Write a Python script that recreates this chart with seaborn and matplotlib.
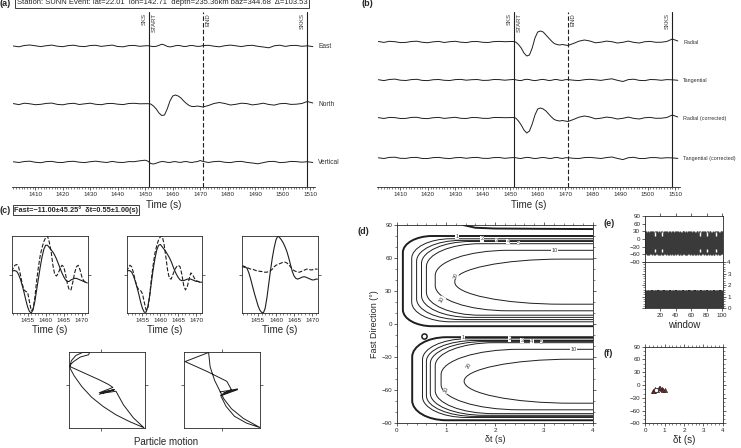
import matplotlib
matplotlib.use('Agg')
import matplotlib.pyplot as plt
from matplotlib.path import Path
from matplotlib.patches import PathPatch
from matplotlib.ticker import MultipleLocator
import numpy as np
import seaborn as sns

W, H = 741, 448
INK = '#1e1e1e'

# ---- (a)/(b) seismograms, amplitudes in plot units ----
TRACE_T = np.concatenate([np.arange(1402, 1451, 2), np.arange(1451, 1472, 1),
                          np.arange(1473, 1512, 2)])
EAST = [0.0, -0.8, 0.5, 1.0, 0.2, -0.6, 0.3, 0.9, -0.2, -0.7, 0.4, 0.8, -0.3, -0.6, 0.5,
        0.7, -0.4, 0.3, 0.9, -0.5, -0.8, 0.4, 0.6, -0.3, 0.2,
        0.3, -0.2, -0.6, -0.3, 0.6, 1.8, 1.0, -0.4, -0.9, -0.5, 0.3, 0.6, 0.2, -0.5, -0.4,
        0.3, 0.6, 0.1, -0.4, -0.3, 0.4,
        0.7, -0.2, -0.8, 0.3, 0.9, 0.2, -0.6, 0.4, 0.7, -0.3, -1.0, -1.8, 0.2, 0.8, -0.4,
        0.5, 0.6, -0.3, 0.2, -0.6]
NORTH = [0.4, -0.6, 0.8, 0.2, -0.7, -0.3, 0.6, 0.9, -0.4, -0.8, 0.3, 0.7, -0.5, 0.2, 0.8,
         -0.3, -0.7, 0.4, 0.6, -0.2, -0.6, 0.5, 0.7, 0.2, 0.3,
         0.3, 0.0, -2.0, -5.0, -9.0, -11.5, -11.0, -5.0, 3.0, 8.0, 9.0, 8.0, 6.0, 3.0, 0.5,
         -1.5, -2.5, -2.5, -2.0, -2.5, -3.0,
         -1.5, 0.5, 1.5, 0.5, -1.0, -0.3, 0.8, 0.4, -0.9, -0.2, 0.8, -0.5, -1.1, 0.3, 0.6,
         -0.4, -0.2, 0.5, 2.5, 1.0]
VERTICAL = [0.2, -0.5, 0.5, 0.8, -0.3, -0.7, 0.4, 0.6, -0.4, -0.5, 0.5, 0.7, -0.2, -0.6, 0.3,
            0.8, 0.1, -0.5, 0.6, -0.3, -0.5, 0.4, 0.3, 1.2, 1.8,
            0.8, -1.5, -2.0, -1.2, -0.2, 0.5, 0.3, -0.3, -0.5, 0.2, 0.4, -0.2, -0.4, 0.3, 0.5,
            -0.2, -0.5, 0.1, 0.4, 1.5, 0.6,
            -0.5, 0.4, 0.7, -0.3, -0.6, 0.4, 0.6, -0.4, -1.0, -1.8, -0.6, 0.5, 0.6, -0.6, -0.3,
            0.6, 0.4, -0.2, 0.3, -0.5]
RADIAL = [0.5, -0.4, 0.7, 0.3, -0.6, -0.4, 0.5, 0.8, -0.3, -0.7, 0.2, 0.6, -0.5, 0.3, 0.7,
          -0.2, -0.6, 0.4, 0.5, -0.3, -0.5, 0.4, 0.6, 0.3, 0.5,
          0.5, 0.0, -2.5, -6.0, -11.0, -14.0, -13.0, -6.0, 4.0, 10.0, 11.0, 10.0, 7.0, 4.0, 1.0,
          -1.5, -2.5, -3.0, -2.5, -3.0, -3.5,
          -1.5, 0.8, 2.0, 1.0, -0.8, -0.2, 0.9, 0.3, -1.0, -0.3, 0.9, -0.4, -1.0, 0.3, 0.6,
          -0.3, -0.2, 0.5, 3.0, 1.0]
TANGENTIAL = [0.3, -0.6, 0.5, 0.9, -0.2, -0.5, 0.4, 0.7, -0.4, -0.6, 0.3, 0.5, -0.3, -0.5, 0.4,
              0.6, -0.2, 0.3, 0.5, -0.4, -0.3, 0.5, 0.4, -0.2, 0.3,
              0.5, 0.2, -0.4, -0.6, 0.3, 0.7, 0.4, -0.3, -0.6, -0.2, 0.4, 0.6, 0.1, -0.5, -0.3,
              0.4, 0.5, -0.2, -0.4, 0.3, 0.4,
              -0.2, -0.6, 0.3, 0.7, 0.2, -0.4, 0.5, 1.2, -0.3, -1.5, 0.4, 0.8, -0.4, -0.6, 0.5,
              0.3, -0.3, 0.4, 0.2, -0.3]
RADIAL_C = [0.4, -0.5, 0.6, 0.4, -0.5, -0.4, 0.6, 0.7, -0.4, -0.6, 0.3, 0.6, -0.4, 0.2, 0.7,
            -0.3, -0.5, 0.5, 0.4, -0.3, -0.4, 0.5, 0.5, 0.3, 0.4,
            0.5, 0.0, -3.0, -7.0, -12.0, -15.0, -13.0, -6.0, 3.0, 9.0, 10.0, 9.0, 7.0, 4.0, 1.0,
            -1.5, -2.5, -3.0, -2.5, -3.0, -3.5,
            -1.5, 0.8, 2.0, 1.0, -0.8, -0.2, 0.9, 0.3, -1.0, -0.3, 0.9, -0.4, -1.0, 0.3, 0.6,
            -0.3, -0.2, 0.5, 3.0, 1.0]
TANGENTIAL_C = [0.2, -0.5, 0.6, 0.8, -0.3, -0.4, 0.5, 0.6, -0.5, -0.5, 0.4, 0.6, -0.2, -0.6, 0.3,
                0.5, -0.3, 0.4, 0.6, -0.3, -0.4, 0.4, 0.5, -0.3, 0.2,
                0.4, 0.3, -0.3, -0.5, 0.2, 0.6, 0.5, -0.2, -0.5, -0.3, 0.3, 0.5, 0.2, -0.4, -0.4,
                0.3, 0.6, -0.1, -0.5, 0.2, 0.3,
                -0.3, -0.5, 0.4, 0.6, 0.1, -0.5, 0.4, 1.0, -0.4, -1.6, 0.3, 0.7, -0.5, -0.5, 0.4,
                0.4, -0.2, 0.3, 0.1, -0.4]
A_NAMES = ['East', 'North', 'Vertical']
A_BASE = [141, 83, 25]
B_NAMES = ['Radial', 'Tangential', 'Radial (corrected)', 'Tangential (corrected)']
B_BASE = [145, 107, 69, 29]
SKS_T, END_T, SKKS_T = 1451.5, 1471.0, 1509.0

# ---- (c) windowed waveforms (normalised) ----
C_T = np.arange(1450.5, 1472.0, 0.5)
C1_SOLID = [0.54, 0.55, 0.55, 0.54, 0.50, 0.44, 0.36, 0.27, 0.17, 0.08, 0.02, 0.00, 0.04, 0.15,
            0.30, 0.45, 0.60, 0.73, 0.83, 0.88, 0.88, 0.85, 0.82, 0.79, 0.75, 0.70, 0.64, 0.58,
            0.52, 0.47, 0.43, 0.41, 0.41, 0.43, 0.44, 0.45, 0.45, 0.44, 0.43, 0.42, 0.41, 0.40, 0.39]
C1_DASH = [0.54, 0.58, 0.62, 0.63, 0.60, 0.50, 0.38, 0.30, 0.28, 0.27, 0.15, 0.03, 0.05, 0.20,
           0.42, 0.60, 0.75, 0.85, 0.93, 0.98, 1.00, 0.92, 0.80, 0.62, 0.50, 0.48, 0.52, 0.58,
           0.62, 0.60, 0.50, 0.38, 0.30, 0.30, 0.40, 0.52, 0.60, 0.62, 0.56, 0.47, 0.42, 0.40, 0.40]
C2_SOLID = [0.54, 0.55, 0.55, 0.53, 0.48, 0.41, 0.33, 0.24, 0.14, 0.06, 0.01, 0.01, 0.08, 0.22,
            0.40, 0.57, 0.71, 0.82, 0.88, 0.89, 0.86, 0.83, 0.80, 0.76, 0.72, 0.67, 0.61, 0.55,
            0.50, 0.46, 0.43, 0.42, 0.42, 0.43, 0.44, 0.44, 0.44, 0.43, 0.42, 0.41, 0.41, 0.40, 0.40]
C2_DASH = [0.54, 0.58, 0.62, 0.60, 0.52, 0.42, 0.34, 0.30, 0.29, 0.25, 0.14, 0.04, 0.06, 0.22,
           0.45, 0.63, 0.78, 0.88, 0.95, 0.99, 1.00, 0.90, 0.74, 0.56, 0.45, 0.44, 0.50, 0.56,
           0.60, 0.62, 0.60, 0.50, 0.36, 0.30, 0.34, 0.44, 0.52, 0.50, 0.45, 0.42, 0.41, 0.40, 0.40]
C3_SOLID = [0.60, 0.61, 0.60, 0.58, 0.52, 0.44, 0.35, 0.26, 0.18, 0.10, 0.04, 0.01, 0.00, 0.06,
            0.20, 0.38, 0.56, 0.72, 0.85, 0.95, 1.00, 0.98, 0.95, 0.91, 0.86, 0.80, 0.72, 0.63,
            0.54, 0.48, 0.45, 0.44, 0.45, 0.46, 0.47, 0.47, 0.46, 0.45, 0.44, 0.43, 0.43, 0.44, 0.44]
C3_DASH = [0.60, 0.60, 0.59, 0.59, 0.58, 0.57, 0.57, 0.56, 0.55, 0.55, 0.54, 0.54, 0.53, 0.53,
           0.53, 0.54, 0.55, 0.57, 0.60, 0.62, 0.63, 0.64, 0.65, 0.66, 0.66, 0.65, 0.63, 0.60,
           0.57, 0.55, 0.54, 0.53, 0.53, 0.54, 0.55, 0.56, 0.57, 0.57, 0.56, 0.56, 0.57, 0.57, 0.57]

# ---- particle motion (normalised box coords) ----
PM1_X = [0.40, 0.60, 0.42, 0.62, 0.72, 0.85, 0.99, 0.80, 0.62, 0.45, 0.30, 0.17, 0.07, 0.01,
         0.03, 0.09, 0.18, 0.27, 0.26, 0.15, 0.06, 0.00, 0.20, 0.40, 0.52, 0.58, 0.40, 0.59, 0.48]
PM1_Y = [0.44, 0.50, 0.45, 0.48, 0.30, 0.13, 0.00, 0.08, 0.17, 0.28, 0.40, 0.54, 0.68, 0.79,
         0.88, 0.95, 0.99, 0.99, 0.96, 0.93, 0.87, 0.81, 0.72, 0.63, 0.57, 0.53, 0.46, 0.50, 0.47]
PM2_X = [0.47, 0.70, 0.48, 0.62, 0.56, 0.30, 0.01, 0.32, 0.34, 0.40, 0.46, 0.52, 0.62, 0.78,
         1.00, 0.82, 0.66, 0.55, 0.48, 0.70, 0.52]
PM2_Y = [0.47, 0.51, 0.43, 0.50, 0.61, 0.74, 0.87, 0.99, 0.80, 0.62, 0.50, 0.38, 0.25, 0.12,
         0.00, 0.06, 0.15, 0.28, 0.42, 0.50, 0.46]

# ---- (d) energy contours: one horseshoe per level and lobe ----
LEVELS = [1, 2, 3, 4, 5, 10, 20]
UP_NOSE = [0.12, 0.30, 0.40, 0.50, 0.60, 0.78, 1.18]
UP_TOP = [80, 77.5, 76, 75, 73, 67, 59]
UP_BOT = [-2, 2, 4, 6, 8, 12, 18]
UP_W = [0.6, 0.8, 0.9, 1.0, 1.1, 1.5, 2.2]
UP_H = [15, 18, 19, 20, 21, 23, 20]
LO_NOSE = [0.31, 0.52, 0.60, 0.68, 0.78, 0.90, 1.37]
LO_TOP = [-12, -13.5, -15, -16, -17, -23, -32]
LO_BOT = [-87.5, -85, -84, -83, -81.5, -78, -72]
LO_W = [0.7, 0.9, 1.0, 1.1, 1.2, 1.6, 2.2]
LO_H = [18, 19, 19, 20, 21, 23, 20]
WRAP_DT = [1.35, 1.6, 2.0, 3.0, 4.0]
WRAP_PHI = [90, 87.5, 86.8, 86.5, 86.3]
LBL_DT = [1.22, 1.73, 2.03, 2.27, 2.48, 3.22, 1.2, 0.92, 1.34, 2.3, 2.55, 2.75, 2.95, 3.61, 1.47, 1.0]
LBL_PHI = [80, 77.5, 76, 75, 73, 67, 44, 22, -12, -13.5, -15, -16, -17, -23, -38, -60]
LBL_TXT = ['1', '2', '3', '4', '5', '10', '20', '10', '1', '2', '3', '4', '5', '10', '20', '10']
LBL_ROT = [0, 0, 0, 0, 0, 0, 75, 60, 0, 0, 0, 0, 0, 0, 60, 70]
BEST_DT, BEST_PHI = 0.55, -11.0

# ---- (e) per-window estimates ----
WINDOWS = np.arange(1, 101)
E_PHI = [-12, -15, -17, -13, -16, -18, -14, -12, -15, -17,
         -13, -16, -18, -14, -12, -15, -17, -13, -16, -18,
         -12, -14, -17, -19, -13, -15, -18, -14, -12, -16,
         -18, -13, -15, -17, -14, -12, -16, -18, -13, -15,
         -17, -12, -14, -17, -19, -13, -16, -18, -14, -12,
         -15, -17, -13, -16, -18, -14, -12, -15, -17, -13,
         -16, -18, -12, -14, -17, -19, -13, -15, -18, -14,
         -12, -16, -18, -13, -15, -17, -14, -12, -16, -18,
         -13, -15, -17, -12, -14, -17, -19, -13, -16, -18,
         -14, -12, -15, -17, -13, -16, -18, -14, -12, -15]
E_DT = [1.50, 1.38, 1.25, 1.12, 1.00, 0.90, 0.82, 0.75, 1.52, 1.40,
        1.28, 1.15, 1.02, 0.92, 0.83, 0.76, 1.50, 1.38, 1.26, 1.13,
        1.01, 0.90, 0.81, 0.74, 1.48, 1.36, 1.24, 1.11, 1.00, 0.90,
        0.82, 0.75, 1.51, 1.39, 1.27, 1.14, 1.02, 0.91, 0.82, 0.75,
        1.49, 1.37, 1.25, 1.12, 1.01, 0.90, 0.81, 0.74, 1.50, 1.38,
        1.26, 1.13, 1.01, 0.91, 0.82, 0.75, 1.52, 1.40, 1.27, 1.14,
        1.02, 0.92, 0.83, 0.76, 1.48, 1.36, 1.23, 1.11, 1.00, 0.90,
        0.81, 0.74, 1.50, 1.38, 1.26, 1.13, 1.01, 0.90, 0.82, 0.75,
        1.49, 1.37, 1.25, 1.12, 1.00, 0.90, 0.81, 0.75, 1.51, 1.39,
        1.27, 1.14, 1.02, 0.91, 0.82, 0.76, 1.50, 1.38, 1.26, 1.14]
PHI_ERR = 45.25
DT_BAND_TOP = 1.6
E_GAP_WIN = [13, 23, 71, 81, 92]

# ---- (f) cluster ----
F_DT = [0.40, 0.46, 0.52, 0.62, 0.70, 0.78, 0.85, 0.93, 1.00]
F_PHI = [-15, -13, -9, -12, -8, -6, -9, -12, -11]


def rect(x0, y0, x1, y1):
    return [x0 / W, 1 - y1 / H, (x1 - x0) / W, (y1 - y0) / H]


def small_ticks(ax, size=4.5):
    ax.tick_params(labelsize=size, length=2, width=0.5, pad=1.5)
    ax.tick_params(which='minor', length=1.2, width=0.4)
    for s in ax.spines.values():
        s.set_linewidth(0.6)


def horseshoe(nose, top, bot, w, h):
    k = 0.5523
    verts = [(4.05, top), (nose + w, top),
             (nose + w * (1 - k), top), (nose, top - h * (1 - k)), (nose, top - h),
             (nose, bot + h),
             (nose, bot + h * (1 - k)), (nose + w * (1 - k), bot), (nose + w, bot),
             (4.05, bot)]
    codes = [Path.MOVETO, Path.LINETO, Path.CURVE4, Path.CURVE4, Path.CURVE4,
             Path.LINETO, Path.CURVE4, Path.CURVE4, Path.CURVE4, Path.LINETO]
    return Path(verts, codes)


sns.set_style('ticks')
plt.rcParams['font.family'] = ['Liberation Sans', 'DejaVu Sans']
plt.rcParams['axes.unicode_minus'] = True

fig = plt.figure(figsize=(W / 100, H / 100), dpi=100)


def seismo_panel(box, names, bases, traces, lab_size):
    ax = fig.add_axes(rect(*box))
    for name, base, vals in zip(names, bases, traces):
        sns.lineplot(x=TRACE_T, y=base + np.asarray(vals), ax=ax, color=INK,
                     linewidth=0.7, estimator=None, sort=False)
        ax.text(1.01, base, name, transform=ax.get_yaxis_transform(),
                fontsize=lab_size, va='center', ha='left', color='#333333')
    ax.axvline(SKS_T, color=INK, lw=0.8)
    ax.axvline(END_T, color=INK, lw=0.8, ls=(0, (4, 2)))
    ax.axvline(SKKS_T, color=INK, lw=0.8)
    for x, lab, ha in [(SKS_T - 0.8, 'SKS', 'right'), (SKS_T + 0.8, 'START', 'left'),
                       (END_T + 0.8, 'END', 'left'), (SKKS_T - 0.8, 'SKKS', 'right')]:
        ax.text(x, 174, lab, rotation=90, ha=ha, va='top', fontsize=4.3, color='#333333')
    ax.set_xlim(1401.5, 1511.8)
    ax.set_ylim(0, 175)
    ax.xaxis.set_minor_locator(MultipleLocator(1))
    ax.set_xticks(np.arange(1410, 1511, 10))
    ax.set_yticks([])
    for s in ['left', 'right', 'top']:
        ax.spines[s].set_visible(False)
    small_ticks(ax)
    ax.set_xlabel('Time (s)', fontsize=7, labelpad=2)
    ax.set_ylabel('')
    return ax


seismo_panel((12, 12, 315, 187), A_NAMES, A_BASE, [EAST, NORTH, VERTICAL], 4.8)
seismo_panel((377, 12, 680, 187), B_NAMES, B_BASE,
             [RADIAL, TANGENTIAL, RADIAL_C, TANGENTIAL_C], 3.9)

fig.text(0 / W, 1 - 3 / H, '(a)', fontsize=6.5, fontweight='bold', va='center')
fig.text(162 / W, 1 - 3 / H,
         'Station: SUNN Event: lat=22.01  lon=142.71  depth=235.36km baz=344.68  \u0394=103.53',
         fontsize=5.5, ha='center', va='center',
         bbox=dict(boxstyle='square,pad=0.2', fc='white', ec=INK, lw=0.6))
fig.text(362 / W, 1 - 3 / H, '(b)', fontsize=6.5, fontweight='bold', va='center')

# (c)
fig.text(0 / W, 1 - 210 / H, '(c)', fontsize=6.5, fontweight='bold', va='center')
fig.text(14 / W, 1 - 210 / H, 'Fast=\u221211.00\u00b145.25\u00b0  \u03b4t=0.55\u00b11.00(s)',
         fontsize=5.3, fontweight='bold', va='center', ha='left',
         bbox=dict(boxstyle='square,pad=0.2', fc='white', ec=INK, lw=0.6))
for box, solid, dash in [((11.7, 236, 88, 313), C1_SOLID, C1_DASH),
                         ((126.7, 236, 202.3, 313), C2_SOLID, C2_DASH),
                         ((242, 236, 318.3, 313), C3_SOLID, C3_DASH)]:
    ax = fig.add_axes(rect(*box))
    sns.lineplot(x=C_T, y=solid, ax=ax, color=INK, linewidth=0.8, estimator=None, sort=False)
    sns.lineplot(x=C_T, y=dash, ax=ax, color=INK, linewidth=0.8, linestyle='--',
                 estimator=None, sort=False)
    ax.set_xlim(1450.6, 1471.7)
    ax.set_ylim(0, 1.0)
    ax.set_xticks([1455, 1460, 1465, 1470])
    ax.xaxis.set_minor_locator(MultipleLocator(1))
    ax.set_yticks([0.5])
    ax.yaxis.set_ticks_position('both')
    ax.tick_params(axis='y', labelleft=False, labelright=False)
    small_ticks(ax)
    ax.set_xlabel('Time (s)', fontsize=7, labelpad=1.5)
    ax.set_ylabel('')

for box, px, py, tx in [((69, 351.7, 144.7, 427.7), PM1_X, PM1_Y, 0.42),
                        ((184.3, 351.7, 260.3, 427.7), PM2_X, PM2_Y, 0.49)]:
    ax = fig.add_axes(rect(*box))
    sns.lineplot(x=px, y=py, ax=ax, color=INK, linewidth=0.7, estimator=None, sort=False)
    ax.set_xlim(0, 1)
    ax.set_ylim(0, 1)
    ax.set_xticks([tx])
    ax.set_yticks([0.56])
    ax.xaxis.set_ticks_position('both')
    ax.yaxis.set_ticks_position('both')
    ax.tick_params(labelbottom=False, labelleft=False)
    small_ticks(ax)
    ax.set_xlabel('')
    ax.set_ylabel('')
fig.text(166 / W, 1 - 442 / H, 'Particle motion', fontsize=7, ha='center', va='center')

# (d)
ax = fig.add_axes(rect(397, 225, 593, 423))
for i, lev in enumerate(LEVELS):
    lw = 1.4 if lev == 1 else 0.7
    for p in [horseshoe(UP_NOSE[i], UP_TOP[i], UP_BOT[i], UP_W[i], UP_H[i]),
              horseshoe(LO_NOSE[i], LO_TOP[i], LO_BOT[i], LO_W[i], LO_H[i])]:
        ax.add_patch(PathPatch(p, fill=False, ec=INK, lw=lw))
sns.lineplot(x=WRAP_DT, y=WRAP_PHI, ax=ax, color=INK, linewidth=1.4, estimator=None, sort=False)
for x, y, t, r in zip(LBL_DT, LBL_PHI, LBL_TXT, LBL_ROT):
    ax.text(x, y, t, fontsize=4, rotation=r, ha='center', va='center', color='#444444',
            bbox=dict(boxstyle='square,pad=0.05', fc='white', ec='none'))
ax.scatter([BEST_DT], [BEST_PHI], s=14, facecolor='white', edgecolor=INK, linewidth=1.1, zorder=5)
ax.set_xlim(0, 4)
ax.set_ylim(-90, 90)
ax.set_xticks(np.arange(0, 5, 1))
ax.set_yticks(np.arange(-90, 91, 30))
ax.yaxis.set_minor_locator(MultipleLocator(10))
ax.xaxis.set_minor_locator(MultipleLocator(0.2))
ax.xaxis.set_ticks_position('both')
ax.yaxis.set_ticks_position('both')
small_ticks(ax)
ax.set_xlabel('\u03b4t (s)', fontsize=6.5, labelpad=1.5)
ax.set_ylabel('Fast Direction (\u00b0)', fontsize=6.5, labelpad=2)
fig.text(357 / W, 1 - 231 / H, '(d)', fontsize=6.5, fontweight='bold', va='center')

# (e)
ax = fig.add_axes(rect(645, 216, 722.5, 262))
ax.vlines(WINDOWS, np.asarray(E_PHI) - PHI_ERR, np.asarray(E_PHI) + PHI_ERR,
          color='#3a3a3a', lw=1.0)
ax.vlines(E_GAP_WIN, 13, 26, color='white', lw=1.0)
ax.vlines(E_GAP_WIN, -52, -39, color='white', lw=1.0)
sns.scatterplot(x=WINDOWS, y=E_PHI, ax=ax, color='black', s=1.5, marker='s', linewidth=0)
ax.set_xlim(0.5, 100.5)
ax.set_ylim(-90, 90)
ax.set_yticks(np.arange(-90, 91, 30))
ax.set_xticks(np.arange(20, 101, 20))
ax.xaxis.set_ticks_position('top')
ax.tick_params(labeltop=False)
small_ticks(ax)
ax.set_xlabel('')
fig.text(603 / W, 1 - 223 / H, '(e)', fontsize=6.5, fontweight='bold', va='center')

ax = fig.add_axes(rect(645, 262, 722.5, 308.3))
ax.vlines(WINDOWS, 0, DT_BAND_TOP, color='#3a3a3a', lw=1.0)
sns.scatterplot(x=WINDOWS, y=E_DT, ax=ax, color='black', s=1.5, marker='s', linewidth=0)
ax.set_xlim(0.5, 100.5)
ax.set_ylim(0, 4)
ax.set_xticks(np.arange(20, 101, 20))
ax.set_yticks(np.arange(0, 5, 1))
ax.yaxis.set_minor_locator(MultipleLocator(0.2))
ax.yaxis.set_ticks_position('both')
ax.tick_params(labelleft=False, labelright=True)
small_ticks(ax)
ax.set_xlabel('window', fontsize=7, labelpad=1.5)

# (f)
ax = fig.add_axes(rect(645.3, 346.7, 722.7, 423.3))
sns.scatterplot(x=F_DT, y=F_PHI, ax=ax, marker='^', s=9, color='#8c2a2a', edgecolor=INK,
                linewidth=0.4)
ax.scatter([BEST_DT], [BEST_PHI], s=9, facecolor='white', edgecolor=INK, linewidth=0.5, zorder=5)
ax.set_xlim(0, 4)
ax.set_ylim(-90, 90)
ax.set_yticks(np.arange(-90, 91, 30))
ax.xaxis.set_minor_locator(MultipleLocator(0.2))
ax.yaxis.set_minor_locator(MultipleLocator(10))
ax.xaxis.set_ticks_position('both')
ax.yaxis.set_ticks_position('both')
small_ticks(ax)
ax.set_xlabel('\u03b4t (s)', fontsize=7, labelpad=1.5)
fig.text(603 / W, 1 - 353 / H, '(f)', fontsize=6.5, fontweight='bold', va='center')

fig.savefig('out.png', dpi=100)
